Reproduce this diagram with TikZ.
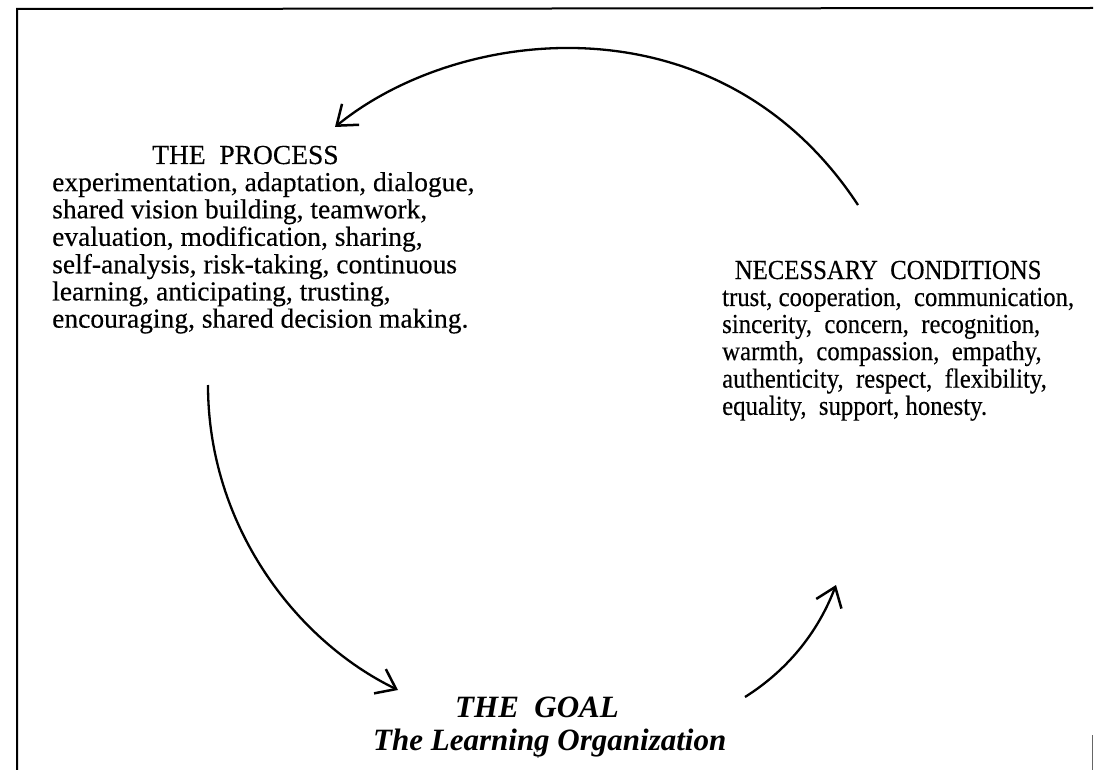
\documentclass[tikz,border=0pt]{standalone}
\usepackage{fontspec}
\setmainfont{Liberation Serif}[FakeBold=0.3]
\newfontfamily\goalfam{Liberation Serif}
\usetikzlibrary{arrows.meta}
\newcommand{\bodyfont}{\fontsize{27.5}{27}\selectfont}
\newcommand{\goalfont}{\goalfam\fontsize{31}{33}\selectfont\bfseries\itshape}
\begin{document}
\begin{tikzpicture}[x=1pt,y=-1pt,
  frameline/.style={line width=2pt},
  flowarrow/.style={line width=2.3pt,-{Straight Barb[length=18pt,width=27pt,line width=2.5pt]}},
  textblock/.style={inner sep=0pt,anchor=base west,font=\bodyfont}]
\useasboundingbox (0,0) rectangle (1095,770);
\fill[white] (0,0) rectangle (1095,770);
% frame
\draw[frameline] (17,770) -- (17,9) -- (1093,8);
\draw[line width=1pt,black!60] (1092,735) -- (1092,770);
\fill[black!70] (537,751) circle (1pt);
\fill[black!70] (538,757) circle (0.8pt);
% text blocks
\node[textblock] (proc) at (52,164) {\begin{tabular}[t]{@{}l@{}}
\hspace{100pt}THE\ \ PROCESS\\
experimentation, adaptation, dialogue,\\
shared vision building, teamwork,\\
evaluation, modification, sharing,\\
self-analysis, risk-taking, continuous\\
learning, anticipating, trusting,\\
encouraging, shared decision making.
\end{tabular}};
\node[textblock] (cond) at (722,279) {\scalebox{0.9}[1]{\begin{tabular}[t]{@{}l@{}}
\hspace{14pt}NECESSARY\ \ CONDITIONS\\
trust, cooperation,\ \ communication,\\
sincerity,\ \ concern,\ \ recognition,\\
warmth,\ \ compassion,\ \ empathy,\\
authenticity,\ \ respect,\ \ flexibility,\\
equality,\ \ support, honesty.
\end{tabular}}};
\node[inner sep=0pt,anchor=base west,font=\goalfont] (goal) at (373,717) {\begin{tabular}[t]{@{}l@{}}
\hspace{82pt}THE\ \ GOAL\\
The Learning Organization
\end{tabular}};
% connectors
\coordinate (c1) at (858,205);
\coordinate (p1) at (335,127);
\coordinate (p2) at (208,385);
\coordinate (g1) at (398,690);
\coordinate (g2) at (745,697);
\coordinate (c2) at (836,585);
\draw[flowarrow] (c1) .. controls (720,-5) and (460,25) .. (p1);
\draw[flowarrow] (p2) .. controls (208,525) and (295,640) .. (g1);
\draw[flowarrow] (g2) .. controls (780,675) and (815,640) .. (c2);
\end{tikzpicture}
\end{document}
